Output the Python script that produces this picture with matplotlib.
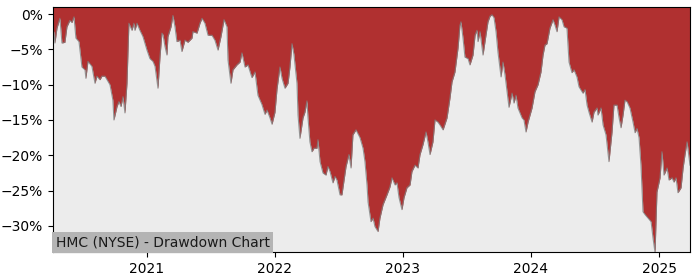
import numpy as np
import pandas as pd
import matplotlib
matplotlib.use('Agg')
import matplotlib.pyplot as plt
import matplotlib.dates as mdates
from matplotlib.ticker import FuncFormatter, MultipleLocator

# decimal years and drawdown in percent
years = [
    2020.266, 2020.273, 2020.281, 2020.297, 2020.320, 2020.336, 2020.359, 2020.375, 2020.398, 2020.414,
    2020.430, 2020.445, 2020.469, 2020.492, 2020.516, 2020.523, 2020.539, 2020.570, 2020.594, 2020.609,
    2020.633, 2020.648, 2020.672, 2020.688, 2020.711, 2020.734, 2020.742, 2020.766, 2020.781, 2020.797,
    2020.813, 2020.828, 2020.844, 2020.859, 2020.883, 2020.898, 2020.906, 2020.922, 2020.945, 2020.969,
    2021.000, 2021.023, 2021.047, 2021.063, 2021.086, 2021.102, 2021.117, 2021.125, 2021.141, 2021.156,
    2021.164, 2021.188, 2021.203, 2021.219, 2021.234, 2021.258, 2021.273, 2021.297, 2021.320, 2021.352,
    2021.359, 2021.391, 2021.414, 2021.430, 2021.453, 2021.477, 2021.508, 2021.531, 2021.555, 2021.578,
    2021.602, 2021.625, 2021.633, 2021.656, 2021.672, 2021.703, 2021.727, 2021.742, 2021.766, 2021.789,
    2021.820, 2021.844, 2021.867, 2021.898, 2021.922, 2021.938, 2021.961, 2021.977, 2022.000, 2022.016,
    2022.039, 2022.055, 2022.078, 2022.102, 2022.117, 2022.133, 2022.148, 2022.172, 2022.180, 2022.195,
    2022.219, 2022.234, 2022.250, 2022.258, 2022.273, 2022.289, 2022.305, 2022.328, 2022.336, 2022.352,
    2022.375, 2022.398, 2022.414, 2022.430, 2022.453, 2022.469, 2022.484, 2022.508, 2022.523, 2022.531,
    2022.555, 2022.578, 2022.594, 2022.609, 2022.633, 2022.664, 2022.688, 2022.703, 2022.719, 2022.727,
    2022.750, 2022.766, 2022.781, 2022.805, 2022.820, 2022.844, 2022.875, 2022.898, 2022.914, 2022.938,
    2022.953, 2022.969, 2022.992, 2023.008, 2023.031, 2023.055, 2023.070, 2023.094, 2023.117, 2023.133,
    2023.156, 2023.180, 2023.195, 2023.211, 2023.234, 2023.250, 2023.273, 2023.289, 2023.313, 2023.344,
    2023.367, 2023.383, 2023.406, 2023.430, 2023.445, 2023.453, 2023.469, 2023.484, 2023.508, 2023.523,
    2023.547, 2023.563, 2023.578, 2023.586, 2023.602, 2023.625, 2023.648, 2023.664, 2023.680, 2023.695,
    2023.711, 2023.727, 2023.742, 2023.766, 2023.781, 2023.797, 2023.813, 2023.828, 2023.852, 2023.867,
    2023.883, 2023.898, 2023.930, 2023.945, 2023.961, 2023.977, 2024.008, 2024.031, 2024.055, 2024.078,
    2024.094, 2024.109, 2024.125, 2024.148, 2024.172, 2024.188, 2024.203, 2024.219, 2024.242, 2024.258,
    2024.281, 2024.297, 2024.320, 2024.336, 2024.359, 2024.375, 2024.406, 2024.422, 2024.438, 2024.453,
    2024.477, 2024.492, 2024.516, 2024.523, 2024.547, 2024.563, 2024.586, 2024.609, 2024.633, 2024.648,
    2024.672, 2024.688, 2024.703, 2024.719, 2024.734, 2024.750, 2024.773, 2024.797, 2024.813, 2024.828,
    2024.844, 2024.859, 2024.875, 2024.891, 2024.914, 2024.938, 2024.953, 2024.969, 2024.984, 2025.008,
    2025.023, 2025.039, 2025.063, 2025.078, 2025.102, 2025.117, 2025.133, 2025.148, 2025.172, 2025.188,
    2025.203, 2025.219, 2025.242,
]
drawdown = [
    -2.5, -2.5, -4.1, -2.0, -0.6, -4.1, -4.0, -1.8, -0.9, -1.2,
    -0.4, -3.4, -3.9, -7.5, -7.9, -9.1, -6.7, -7.4, -9.8, -8.8,
    -9.3, -8.8, -8.8, -9.3, -10.0, -12.2, -15.0, -13.1, -12.4, -13.1,
    -11.7, -14.0, -9.8, -1.3, -2.3, -1.3, -2.3, -1.3, -2.3, -3.2,
    -5.1, -6.3, -6.7, -7.4, -10.5, -6.0, -2.7, -2.9, -4.6, -5.8,
    -3.2, -1.8, -0.2, -1.8, -3.9, -3.7, -5.3, -3.7, -4.0, -3.4,
    -2.5, -2.7, -1.3, -0.6, -1.3, -3.0, -3.0, -3.7, -5.1, -3.2,
    -0.8, -1.8, -6.5, -9.8, -7.9, -7.2, -6.8, -5.5, -7.5, -7.2,
    -9.0, -8.2, -11.5, -12.8, -14.2, -13.6, -14.7, -15.6, -13.9, -10.6,
    -7.5, -9.1, -10.5, -9.8, -7.5, -4.2, -5.7, -9.8, -14.3, -17.6,
    -14.7, -13.9, -12.3, -14.7, -18.1, -19.5, -19.0, -19.0, -17.8, -20.9,
    -22.5, -22.8, -21.6, -22.3, -23.9, -23.0, -23.5, -25.6, -25.6, -24.6,
    -21.6, -19.9, -21.8, -17.1, -16.4, -17.5, -19.0, -20.9, -24.2, -26.6,
    -29.4, -28.9, -30.1, -30.8, -28.9, -27.0, -25.6, -24.5, -23.2, -24.2,
    -23.9, -26.0, -27.7, -26.0, -24.6, -24.2, -22.3, -21.4, -21.8, -19.9,
    -18.5, -16.7, -18.1, -19.9, -18.1, -15.0, -15.3, -15.7, -16.4, -14.7,
    -11.9, -9.6, -8.2, -4.8, -1.6, -1.1, -3.4, -6.1, -6.3, -7.2,
    -5.8, -3.0, -2.3, -3.9, -2.5, -5.8, -3.0, -1.1, -0.3, -0.1,
    -0.5, -2.5, -5.4, -8.9, -6.8, -8.6, -11.0, -13.2, -11.2, -12.6,
    -11.5, -13.3, -14.7, -15.0, -16.7, -15.3, -13.3, -11.0, -10.0, -8.2,
    -5.8, -4.4, -4.2, -2.0, -0.8, -1.6, -2.5, -0.4, -0.8, -1.8,
    -2.0, -6.8, -8.3, -7.9, -8.9, -10.3, -11.2, -10.7, -12.9, -13.9,
    -15.3, -13.9, -13.3, -14.3, -13.3, -15.7, -17.1, -20.9, -16.7, -12.9,
    -12.9, -14.7, -16.1, -14.3, -12.2, -12.4, -13.3, -15.3, -16.8, -16.2,
    -17.5, -21.4, -28.0, -28.4, -28.9, -29.4, -31.7, -33.8, -25.2, -23.2,
    -19.5, -22.8, -21.8, -23.5, -23.2, -23.8, -23.2, -25.3, -24.6, -21.8,
    -19.9, -18.1, -21.4,
]
title = 'HMC (NYSE) - Drawdown Chart'

yrs = np.array(years)
dates = pd.Timestamp('2021-01-01') + pd.to_timedelta((yrs - 2021) * 365.25, unit='D')
dd = np.array(drawdown)

fig = plt.figure(figsize=(7, 2.8), dpi=100)
ax = fig.add_axes([0.0757, 0.1, 0.91, 0.875])
ax.set_facecolor('#ececec')

ax.fill_between(dates, dd, 1.0, color='#b03030', linewidth=0)
ax.plot(dates, dd, color='#808080', linewidth=0.8, alpha=0.8)

ax.set_xlim(dates[0], dates[-1])
ax.set_ylim(-33.7, 1.0)
ax.yaxis.set_major_locator(MultipleLocator(5))
ax.yaxis.set_major_formatter(FuncFormatter(lambda v, p: f'{v:.0f}%'.replace('-', '\u2212')))
ax.xaxis.set_major_locator(mdates.YearLocator())
ax.xaxis.set_major_formatter(mdates.DateFormatter('%Y'))

ax.text(0.004, 0.012, title, transform=ax.transAxes, fontsize=10, color='#1a1a1a',
        va='bottom', ha='left',
        bbox=dict(facecolor='#b4b4b4', edgecolor='none', boxstyle='square,pad=0.25'))

fig.savefig('out.png', dpi=100)
